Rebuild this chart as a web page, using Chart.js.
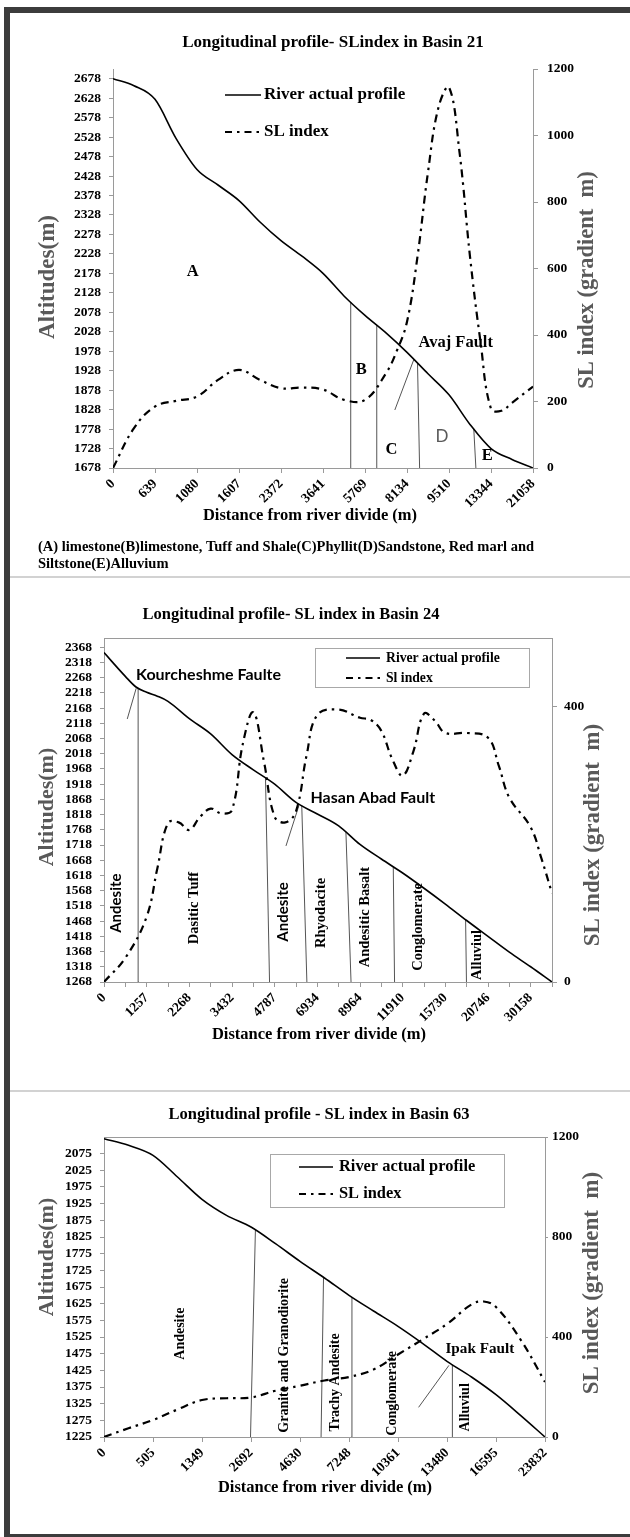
<!DOCTYPE html>
<html>
<head>
<meta charset="utf-8">
<script src="https://cdn.jsdelivr.net/npm/chart.js@4.4.1/dist/chart.umd.min.js"></script>
<style>
  html, body { margin: 0; padding: 0; background: #fff; }
  body { width: 630px; height: 1537px; position: relative; overflow: hidden; }
  #frame { position: absolute; left: 4px; top: 7px; width: 660px; height: 1533px; border: 6px solid #3c3c3c; box-sizing: border-box; }
  .sep { position: absolute; left: 10px; width: 620px; height: 0; border-top: 2px solid #d2d2d2; }
  canvas { position: absolute; left: 0; }
</style>
</head>
<body>
<div id="frame"></div>
<div class="sep" style="top:576px"></div>
<div class="sep" style="top:1090px"></div>
<canvas id="c1" width="630" height="577" style="top:0"></canvas>
<canvas id="c2" width="630" height="512" style="top:578px"></canvas>
<canvas id="c3" width="630" height="440" style="top:1092px"></canvas>
<script>
/*---------------------------------------------------------------------------*/
/* Basin 21 */
const dist21 = ['0', '639', '1080', '1607', '2372', '3641', '5769', '8134', '9510', '13344', '21058'];
const altTicks21 = [1678, 1728, 1778, 1828, 1878, 1928, 1978, 2028, 2078, 2128, 2178, 2228, 2278, 2328, 2378, 2428, 2478, 2528, 2578, 2628, 2678];
const slTicks21 = [0, 200, 400, 600, 800, 1000, 1200];
const altX21 = [0, 0.5, 1, 1.5, 2, 2.5, 3, 3.5, 4, 4.5, 5, 5.5, 6, 6.5, 7, 7.5, 8, 8.5, 9, 9.5, 10];
const alt21 = [2678, 2660, 2625, 2525, 2445, 2405, 2365, 2310, 2262, 2222, 2178, 2120, 2070, 2025, 1975, 1920, 1866, 1790, 1728, 1700, 1678];
const slX21 = [0, 0.5, 1, 1.5, 2, 2.5, 3, 3.5, 4, 4.5, 5, 5.5, 6, 6.5, 6.75, 7, 7.25, 7.5, 7.75, 8, 8.25, 8.5, 8.75, 9, 9.25, 9.5, 10];
const sl21 = [0, 120, 185, 202, 215, 265, 295, 265, 240, 242, 236, 205, 205, 285, 350, 440, 636, 890, 1085, 1145, 950, 636, 380, 178, 172, 196, 245];
// contacts: [x at profile, x at base]
const contacts21 = [[5.66, 5.66], [6.28, 6.28], [7.25, 7.30], [8.59, 8.64]];
const faults21 = [[6.71, 1827, 7.16, 1956]];

/* Basin 24 */
const dist24 = ['0', '', '1257', '', '2268', '', '3432', '', '4787', '', '6934', '', '8964', '', '11910', '', '15730', '', '20746', '', '30158', ''];
const altTicks24 = [1268, 1318, 1368, 1418, 1468, 1518, 1568, 1618, 1668, 1718, 1768, 1818, 1868, 1918, 1968, 2018, 2068, 2118, 2168, 2218, 2268, 2318, 2368];
const slTicks24 = [0, 400];
const altX24 = [0, 1, 1.5, 2, 2.5, 3, 4, 5, 6, 7, 8, 9, 10, 11, 12, 13, 14, 15, 16, 17, 18, 19, 20, 21];
const alt24 = [2350, 2272, 2237, 2220, 2207, 2190, 2133, 2083, 2015, 1965, 1918, 1858, 1820, 1781, 1720, 1672, 1626, 1576, 1524, 1470, 1418, 1366, 1318, 1268];
const slX24 = [0, 1, 2, 2.5, 3, 3.5, 4, 4.5, 5, 5.5, 6, 6.5, 7, 7.5, 8, 8.5, 9, 9.5, 10, 11, 12, 12.5, 13, 13.5, 14, 14.5, 15, 15.5, 16, 17, 18, 18.5, 19, 20, 20.5, 21];
const sl24 = [0, 35, 95, 165, 231, 232, 221, 240, 252, 245, 250, 345, 392, 320, 240, 232, 248, 330, 388, 396, 384, 381, 365, 325, 300, 335, 390, 380, 362, 362, 355, 315, 268, 225, 180, 129];
const contacts24 = [[1.60, 1.64], [7.57, 7.76], [9.27, 9.51], [11.34, 11.58], [13.56, 13.62], [16.95, 16.99]];
const faults24 = [[1.09, 2132, 1.51, 2233], [8.53, 1715, 9.13, 1846]];

/* Basin 63 */
const dist63 = ['0', '505', '1349', '2692', '4630', '7248', '10361', '13480', '16595', '23832'];
const altTicks63 = [1225, 1275, 1325, 1375, 1425, 1475, 1525, 1575, 1625, 1675, 1725, 1775, 1825, 1875, 1925, 1975, 2025, 2075];
const slTicks63 = [0, 400, 800, 1200];
const altX63 = [0, 0.5, 1, 1.5, 2, 2.5, 3, 3.5, 4, 4.5, 5, 5.5, 6, 6.5, 7, 7.5, 8, 8.5, 9];
const alt63 = [2120, 2100, 2070, 2005, 1938, 1890, 1855, 1805, 1752, 1702, 1650, 1603, 1557, 1506, 1452, 1405, 1352, 1290, 1225];
const slX63 = [0, 0.5, 1, 1.5, 2, 2.5, 3, 3.5, 4, 4.5, 5, 5.5, 6, 6.5, 7, 7.5, 7.75, 8, 8.5, 9];
const sl63 = [0, 35, 68, 110, 148, 155, 158, 185, 205, 226, 240, 270, 330, 390, 452, 530, 542, 520, 390, 220];
const contacts63 = [[3.09, 2.99], [4.48, 4.43], [5.06, 5.05], [7.11, 7.11]];
const faults63 = [[6.42, 1314, 7.04, 1440]];

/*---------------------------------------------------------------------------*/
const SERIF = '"Liberation Serif", "Times New Roman", serif';
const SANS = 'Lato, "Open Sans", sans-serif';
const GRAY = '#9a9a9a';
Chart.defaults.font.family = SERIF;
Chart.defaults.animation = false;

function pts(xs, ys) { return xs.map((x, i) => ({x: x, y: ys[i]})); }
function interp(xs, ys, x) {
  for (let i = 1; i < xs.length; i++) {
    if (x <= xs[i]) {
      const t = (x - xs[i - 1]) / (xs[i] - xs[i - 1]);
      return ys[i - 1] + t * (ys[i] - ys[i - 1]);
    }
  }
  return ys[ys.length - 1];
}
function seg(x0, y0, x1, y1) {
  return {data: [{x: x0, y: y0}, {x: x1, y: y1}], yAxisID: 'y', borderColor: '#555', borderWidth: 1, pointRadius: 0, tension: 0};
}
function txt(ctx, s, x, y, font, color, align, rot) {
  ctx.save();
  ctx.translate(x, y);
  if (rot) ctx.rotate(rot);
  ctx.font = font;
  ctx.fillStyle = color || '#000';
  ctx.textAlign = align || 'center';
  ctx.textBaseline = 'middle';
  ctx.fillText(s, 0, 0);
  ctx.restore();
}
const bold = (s, fam) => 'bold ' + s + 'px ' + (fam || SERIF);

function overlay(L) {
  return {
    id: 'overlay',
    afterDraw(chart) {
      const ctx = chart.ctx, xs = chart.scales.x, ys = chart.scales.y, ca = chart.chartArea;
      ctx.save();
      if (L.frameTop) {
        ctx.strokeStyle = GRAY; ctx.lineWidth = 1;
        ctx.beginPath(); ctx.moveTo(ca.left, ca.top + 0.5); ctx.lineTo(ca.right, ca.top + 0.5); ctx.stroke();
      }
      txt(ctx, L.title[0], L.title[1], L.title[2], bold(L.title[3]), '#000');
      txt(ctx, 'Altitudes(m)', L.yTitle[0], L.yTitle[1], bold(L.yTitle[2]), '#595959', 'center', -Math.PI / 2);
      txt(ctx, 'SL index (gradient  m)', L.y1Title[0], L.y1Title[1], bold(L.y1Title[2]), '#595959', 'center', -Math.PI / 2);
      txt(ctx, 'Distance from river divide (m)', L.xTitle[0], L.xTitle[1], bold(L.xTitle[2]), '#000');
      (L.notes || []).forEach(n => txt(ctx, n[2], n[0], n[1], bold(n[3]), '#000', 'left'));

      // legend
      const lg = L.legend;
      if (lg.box) {
        ctx.strokeStyle = '#a8a8a8'; ctx.lineWidth = 1;
        ctx.strokeRect(lg.box[0] + 0.5, lg.box[1] + 0.5, lg.box[2] - lg.box[0], lg.box[3] - lg.box[1]);
      }
      ctx.strokeStyle = '#000';
      ctx.lineWidth = 1.6;
      ctx.setLineDash([]);
      ctx.beginPath(); ctx.moveTo(lg.x0, lg.rows[0]); ctx.lineTo(lg.x1, lg.rows[0]); ctx.stroke();
      ctx.lineWidth = 2.2;
      ctx.setLineDash([7, 5, 2.5, 5]);
      ctx.beginPath(); ctx.moveTo(lg.x0, lg.rows[1]); ctx.lineTo(lg.x1, lg.rows[1]); ctx.stroke();
      ctx.setLineDash([]);
      txt(ctx, lg.names[0], lg.tx, lg.rows[0], bold(lg.size), '#000', 'left');
      txt(ctx, lg.names[1], lg.tx, lg.rows[1], bold(lg.size), '#000', 'left');

      // lithology and fault labels
      L.labels.forEach(l => {
        const font = (l.w || 'bold') + ' ' + l.s + 'px ' + (l.sans ? SANS : SERIF);
        txt(ctx, l.t, xs.getPixelForValue(l.x), ys.getPixelForValue(l.y), font, l.c || '#000', 'center', l.r ? -Math.PI / 2 : 0);
      });
      ctx.restore();
    }
  };
}

function build(id, d, L) {
  const tickFont = {family: SERIF, weight: 'bold', size: 13.5};
  const yMin = d.altTicks[0];
  const sets = [
    {data: pts(d.altX, d.alt), yAxisID: 'y', borderColor: '#000', borderWidth: 1.6, pointRadius: 0, cubicInterpolationMode: 'monotone'},
    {data: pts(d.slX, d.sl), yAxisID: 'y1', borderColor: '#000', borderWidth: 2.2, borderDash: [8, 5, 2.5, 5], pointRadius: 0, tension: 0.4}
  ];
  d.contacts.forEach(c => sets.push(seg(c[1], yMin, c[0], interp(d.altX, d.alt, c[0]))));
  d.faults.forEach(f => sets.push(seg(f[0], f[1], f[2], f[3])));

  return new Chart(document.getElementById(id), {
    type: 'line',
    data: {datasets: sets},
    options: {
      responsive: false,
      layout: {padding: L.pad},
      plugins: {legend: {display: false}, tooltip: {enabled: false}},
      scales: {
        x: {
          type: 'linear', min: 0, max: d.dist.length - 1,
          afterBuildTicks: a => { a.ticks = d.dist.map((_, i) => ({value: i})); },
          afterFit: a => { a.height = L.xh; },
          ticks: {autoSkip: false, minRotation: 45, maxRotation: 45, color: '#000', font: tickFont, padding: 3,
                  callback: v => d.dist[v]},
          grid: {drawOnChartArea: false, tickLength: 5, color: GRAY},
          border: {color: GRAY}
        },
        y: {
          position: 'left', min: yMin, max: d.yMax,
          afterBuildTicks: a => { a.ticks = d.altTicks.map(v => ({value: v})); },
          afterFit: a => { a.width = L.yw; },
          ticks: {autoSkip: false, color: '#000', font: tickFont, padding: 8, callback: v => String(v)},
          grid: {drawOnChartArea: false, tickLength: 4, color: GRAY},
          border: {color: GRAY}
        },
        y1: {
          position: 'right', min: 0, max: d.slMax,
          afterBuildTicks: a => { a.ticks = d.slTicks.map(v => ({value: v})); },
          afterFit: a => { a.width = L.y1w; },
          ticks: {autoSkip: false, color: '#000', font: tickFont, padding: L.y1Pad, callback: v => String(v)},
          grid: {drawOnChartArea: false, tickLength: L.y1Tick, color: GRAY},
          border: {color: GRAY}
        }
      }
    },
    plugins: [overlay(L)]
  });
}

/*---------------------------------------------------------------------------*/
build('c1',
  {dist: dist21, altTicks: altTicks21, slTicks: slTicks21, altX: altX21, alt: alt21, slX: slX21, sl: sl21,
   contacts: contacts21, faults: faults21, yMax: 2703, slMax: 1200},
  {pad: {left: 10, top: 69, right: 0, bottom: 0}, yw: 103, y1w: 97, xh: 109, y1Pad: 9, y1Tick: 5,
   title: ['Longitudinal profile- SLindex in Basin 21', 333, 43, 17],
   yTitle: [48, 277, 23], y1Title: [587, 280, 22.5], xTitle: [310, 516, 16.5],
   notes: [[38, 547, '(A) limestone(B)limestone, Tuff and Shale(C)Phyllit(D)Sandstone, Red marl and', 14.5],
           [38, 564, 'Siltstone(E)Alluvium', 14.5]],
   legend: {box: null, x0: 225, x1: 261, rows: [95, 132], tx: 264, size: 17, names: ['River actual profile', 'SL index']},
   frameTop: false,
   labels: [
     {t: 'A', x: 1.90, y: 2182, s: 16.5},
     {t: 'B', x: 5.91, y: 1930, s: 16.5},
     {t: 'C', x: 6.63, y: 1724, s: 16.5},
     {t: 'D', x: 7.83, y: 1758, s: 17, sans: true, w: 'normal', c: '#595959'},
     {t: 'E', x: 8.91, y: 1709, s: 16.5},
     {t: 'Avaj Fault', x: 8.16, y: 1999, s: 16.5}
   ]});

build('c2',
  {dist: dist24, altTicks: altTicks24, slTicks: slTicks24, altX: altX24, alt: alt24, slX: slX24, sl: sl24,
   contacts: contacts24, faults: faults24, yMax: 2398, slMax: 500},
  {pad: {left: 10, top: 60, right: 0, bottom: 0}, yw: 94, y1w: 78, xh: 108, y1Pad: 7, y1Tick: 5,
   title: ['Longitudinal profile- SL index in Basin 24', 291, 37, 16.5],
   yTitle: [47, 229, 22], y1Title: [593, 257, 23], xTitle: [319, 457, 16.5],
   legend: {box: [315, 70, 529, 109], x0: 346, x1: 380, rows: [80, 100], tx: 386, size: 13.7, names: ['River actual profile', 'Sl index']},
   frameTop: true,
   labels: [
     {t: 'Kourcheshme Faulte', x: 4.9, y: 2276, s: 16, sans: true},
     {t: 'Hasan Abad Fault', x: 12.6, y: 1872, s: 16, sans: true},
     {t: 'Andesite', x: 0.57, y: 1527, s: 15, sans: true, r: 1},
     {t: 'Dasitic Tuff', x: 4.24, y: 1511, s: 14.5, r: 1},
     {t: 'Andesite', x: 8.38, y: 1498, s: 15, sans: true, r: 1},
     {t: 'Rhyodacite', x: 10.17, y: 1495, s: 14.5, r: 1},
     {t: 'Andesitic Basalt', x: 12.24, y: 1481, s: 14.5, r: 1},
     {t: 'Conglomerate', x: 14.75, y: 1449, s: 14.5, r: 1},
     {t: 'Alluviul', x: 17.48, y: 1357, s: 14.5, r: 1}
   ]});

build('c3',
  {dist: dist63, altTicks: altTicks63, slTicks: slTicks63, altX: altX63, alt: alt63, slX: slX63, sl: sl63,
   contacts: contacts63, faults: faults63, yMax: 2125, slMax: 1200},
  {pad: {left: 10, top: 45, right: 0, bottom: 0}, yw: 94, y1w: 85, xh: 95, y1Pad: 4, y1Tick: 3,
   title: ['Longitudinal profile - SL index in Basin 63', 319, 23, 16.5],
   yTitle: [47, 165, 22], y1Title: [592, 191, 23], xTitle: [325, 396, 16.5],
   legend: {box: [270, 62, 504, 115], x0: 299, x1: 333, rows: [75, 102], tx: 339, size: 16.4, names: ['River actual profile', 'SL index']},
   frameTop: true,
   labels: [
     {t: 'Andesite', x: 1.56, y: 1535, s: 14, r: 1},
     {t: 'Granite and Granodiorite', x: 3.69, y: 1470, s: 14, r: 1},
     {t: 'Trachy Andesite', x: 4.72, y: 1389, s: 14, r: 1},
     {t: 'Conglomerate', x: 5.89, y: 1356, s: 14, r: 1},
     {t: 'Alluviul', x: 7.37, y: 1314, s: 14, r: 1},
     {t: 'Ipak Fault', x: 7.67, y: 1490, s: 15.2}
   ]});
</script>
</body>
</html>
